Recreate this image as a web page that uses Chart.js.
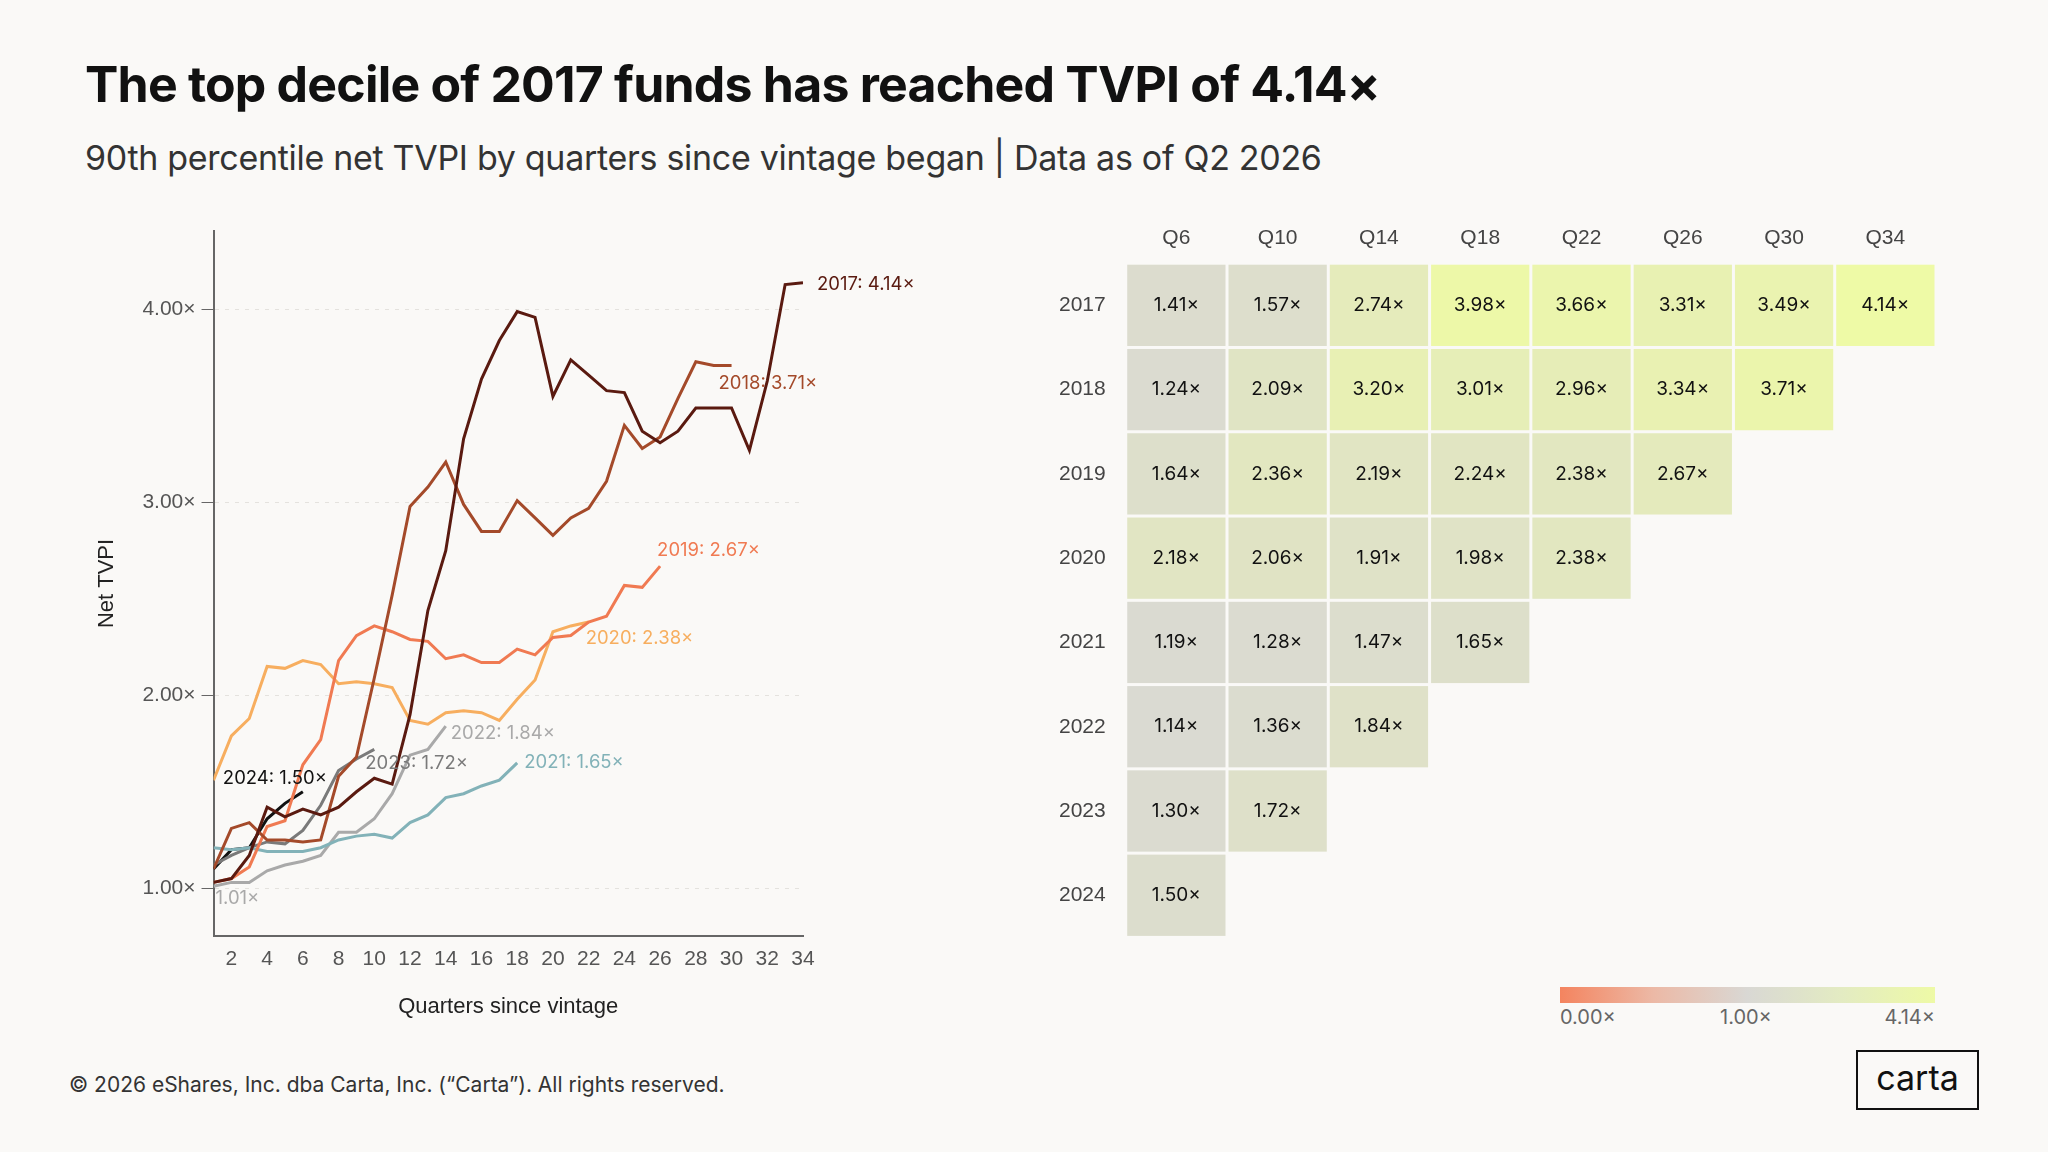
<!DOCTYPE html>
<html lang="en">
<head>
<meta charset="UTF-8">
<title>Top decile TVPI</title>
<script src="https://cdn.jsdelivr.net/npm/chart.js"></script>
<style>
  body { margin: 0; background: #faf9f7; font-family: Inter, "Noto Sans", sans-serif; color: #111; }
  #page { position: relative; width: 2048px; height: 1152px; overflow: hidden; }
  h1 { position: absolute; left: 85px; top: 54px; margin: 0; font-size: 50px; font-weight: 700; letter-spacing: -0.8px; }
  h2 { position: absolute; left: 85px; top: 137px; margin: 0; font-size: 34px; font-weight: 400; color: #333; letter-spacing: -0.3px; }
  #lineBox { position: absolute; left: 90px; top: 212px; width: 823px; height: 812px; }
  #heatBox { position: absolute; left: 1047px; top: 222px; width: 889px; height: 740px; }
  #legend { position: absolute; left: 1560px; top: 987px; width: 375px; }
  #bar { height: 16px; background: linear-gradient(to right, #f4845f 0%, #ecb9a6 25%, #d9d8d4 50%, #e3ebc2 75%, #eefaa6 100%); }
  #legend span { position: absolute; top: 18px; font-size: 20px; color: #666; }
  #foot { position: absolute; left: 69px; top: 1072px; font-size: 21px; color: #333; }
  #logo { position: absolute; left: 1856px; top: 1050px; width: 123px; height: 60px; border: 2px solid #111; box-sizing: border-box; font-size: 34px; text-align: center; line-height: 52px; }
</style>
</head>
<body>
<div id="page">
  <h1>The top decile of 2017 funds has reached TVPI of 4.14×</h1>
  <h2>90th percentile net TVPI by quarters since vintage began | Data as of Q2 2026</h2>
  <div id="lineBox"><canvas id="lineChart"></canvas></div>
  <div id="heatBox"><canvas id="heatChart"></canvas></div>
  <div id="legend"><div id="bar"></div>
    <span style="left:0">0.00×</span><span style="left:160px">1.00×</span><span style="right:0">4.14×</span></div>
  <div id="foot">© 2026 eShares, Inc. dba Carta, Inc. (“Carta”). All rights reserved.</div>
  <div id="logo">carta</div>
</div>
<script>
const vintages = ['2017', '2018', '2019', '2020', '2021', '2022', '2023', '2024'];
const colors = ['#5a1a10', '#a44a2a', '#f07a52', '#f7ae5f', '#82b2b8', '#a9a9a9', '#7a7a7a', '#111111'];

// net TVPI per quarter, starting at quarter 1
const tvpi2017 = [1.03, 1.05, 1.17, 1.42, 1.37, 1.41, 1.38, 1.42, 1.50, 1.57, 1.54, 1.90, 2.44, 2.75, 3.33, 3.64, 3.84, 3.99, 3.96, 3.55, 3.74, 3.66, 3.58, 3.57, 3.37, 3.31, 3.37, 3.49, 3.49, 3.49, 3.27, 3.63, 4.13, 4.14];
const tvpi2018 = [1.10, 1.31, 1.34, 1.25, 1.25, 1.24, 1.25, 1.58, 1.68, 2.09, 2.52, 2.98, 3.08, 3.21, 2.99, 2.85, 2.85, 3.01, 2.92, 2.83, 2.92, 2.97, 3.11, 3.40, 3.28, 3.34, 3.54, 3.73, 3.71, 3.71];
const tvpi2019 = [1.03, 1.05, 1.11, 1.32, 1.35, 1.64, 1.77, 2.18, 2.31, 2.36, 2.33, 2.29, 2.28, 2.19, 2.21, 2.17, 2.17, 2.24, 2.21, 2.30, 2.31, 2.38, 2.41, 2.57, 2.56, 2.67];
const tvpi2020 = [1.56, 1.79, 1.88, 2.15, 2.14, 2.18, 2.16, 2.06, 2.07, 2.06, 2.04, 1.87, 1.85, 1.91, 1.92, 1.91, 1.87, 1.98, 2.08, 2.33, 2.36, 2.38];
const tvpi2021 = [1.21, 1.20, 1.21, 1.19, 1.19, 1.19, 1.21, 1.25, 1.27, 1.28, 1.26, 1.34, 1.38, 1.47, 1.49, 1.53, 1.56, 1.65];
const tvpi2022 = [1.01, 1.03, 1.03, 1.09, 1.12, 1.14, 1.17, 1.29, 1.29, 1.36, 1.49, 1.69, 1.72, 1.84];
const tvpi2023 = [1.12, 1.17, 1.21, 1.24, 1.23, 1.30, 1.43, 1.61, 1.67, 1.72];
const tvpi2024 = [1.10, 1.20, 1.21, 1.36, 1.44, 1.50];
const series = [tvpi2017, tvpi2018, tvpi2019, tvpi2020, tvpi2021, tvpi2022, tvpi2023, tvpi2024];
const xTicks = [2, 4, 6, 8, 10, 12, 14, 16, 18, 20, 22, 24, 26, 28, 30, 32, 34];
const yTicks = [1, 2, 3, 4];

const heatCols = ['Q6', 'Q10', 'Q14', 'Q18', 'Q22', 'Q26', 'Q30', 'Q34'];
const heat2017 = [1.41, 1.57, 2.74, 3.98, 3.66, 3.31, 3.49, 4.14];
const heat2018 = [1.24, 2.09, 3.20, 3.01, 2.96, 3.34, 3.71];
const heat2019 = [1.64, 2.36, 2.19, 2.24, 2.38, 2.67];
const heat2020 = [2.18, 2.06, 1.91, 1.98, 2.38];
const heat2021 = [1.19, 1.28, 1.47, 1.65];
const heat2022 = [1.14, 1.36, 1.84];
const heat2023 = [1.30, 1.72];
const heat2024 = [1.50];
const heatRows = [heat2017, heat2018, heat2019, heat2020, heat2021, heat2022, heat2023, heat2024];

// label offsets from each line's last point (px)
const labelOffsets = [[14, 2], [-13, 18], [-3, -16], [-3, 16], [7, 0], [5, 7], [-9, 14], [-80, -13]];

const fmt = v => v.toFixed(2) + '×';

const lineLabels = {
  id: 'lineLabels',
  afterDatasetsDraw(chart) {
    const ctx = chart.ctx;
    ctx.save();
    ctx.font = '18.5px Inter, sans-serif';
    ctx.textBaseline = 'middle';
    chart.data.datasets.forEach((ds, i) => {
      const meta = chart.getDatasetMeta(i);
      const last = meta.data[meta.data.length - 1];
      ctx.fillStyle = ds.borderColor;
      const v = ds.data[ds.data.length - 1].y;
      ctx.fillText(vintages[i] + ': ' + fmt(v), last.x + labelOffsets[i][0], last.y + labelOffsets[i][1]);
    });
    const first = chart.getDatasetMeta(5).data[0];
    ctx.fillStyle = '#a9a9a9';
    ctx.fillText(fmt(tvpi2022[0]), first.x + 2, first.y + 12);
    ctx.restore();
  }
};

new Chart(document.getElementById('lineChart'), {
  type: 'line',
  data: {
    datasets: series.map((s, i) => ({
      label: vintages[i],
      data: s.map((v, q) => ({ x: q + 1, y: v })),
      borderColor: colors[i],
      borderWidth: 3,
      pointRadius: 0,
      tension: 0
    }))
  },
  options: {
    responsive: true,
    maintainAspectRatio: false,
    animation: false,
    layout: { padding: { right: 110, top: 10 } },
    plugins: { legend: { display: false }, tooltip: { enabled: false } },
    scales: {
      x: {
        type: 'linear', min: 1, max: 34,
        afterBuildTicks: s => { s.ticks = xTicks.map(v => ({ value: v })); },
        grid: { display: false },
        border: { color: '#666', width: 2 },
        ticks: { color: '#555', font: { size: 21 }, padding: 2 },
        title: { display: true, text: 'Quarters since vintage', color: '#222', font: { size: 22 }, padding: { top: 20 } }
      },
      y: {
        min: 0.75, max: 4.41,
        afterBuildTicks: s => { s.ticks = yTicks.map(v => ({ value: v })); },
        grid: { color: '#e4e2de', tickColor: '#666', tickLength: 12 },
        border: { color: '#666', width: 2, dash: [4, 6] },
        ticks: { color: '#555', font: { size: 21 }, callback: v => fmt(v), padding: 6 },
        title: { display: true, text: 'Net TVPI', color: '#222', font: { size: 22 }, padding: { bottom: 16 } }
      }
    }
  },
  plugins: [lineLabels]
});

function cellColor(v) {
  const lerp = (a, b, t) => a.map((c, k) => Math.round(c + (b[k] - c) * t));
  let c;
  if (v <= 1) c = lerp([244, 132, 95], [217, 216, 212], v);
  else c = lerp([217, 216, 212], [238, 250, 166], (v - 1) / 3.14);
  return 'rgb(' + c.join(',') + ')';
}

const heatCells = {
  id: 'heatCells',
  beforeDatasetsDraw(chart) {
    const ctx = chart.ctx, xs = chart.scales.x, ys = chart.scales.y;
    const w = (xs.right - xs.left) / heatCols.length;
    const h = (ys.bottom - ys.top) / vintages.length;
    ctx.save();
    ctx.textAlign = 'center';
    ctx.textBaseline = 'middle';
    ctx.font = '19px Inter, sans-serif';
    heatRows.forEach((row, r) => {
      row.forEach((v, c) => {
        const cx = xs.getPixelForValue(c), cy = ys.getPixelForValue(r);
        ctx.fillStyle = cellColor(v);
        ctx.fillRect(cx - w / 2 + 1.5, cy - h / 2 + 1.5, w - 3, h - 3);
        ctx.fillStyle = '#111';
        ctx.fillText(fmt(v), cx, cy);
      });
    });
    ctx.restore();
  }
};

new Chart(document.getElementById('heatChart'), {
  type: 'scatter',
  data: { datasets: [{ data: [] }] },
  options: {
    responsive: true,
    maintainAspectRatio: false,
    animation: false,
    plugins: { legend: { display: false }, tooltip: { enabled: false } },
    scales: {
      x: {
        type: 'category', labels: heatCols, position: 'top', offset: true,
        grid: { display: false }, border: { display: false },
        ticks: { color: '#444', font: { size: 21 }, padding: 4 }
      },
      y: {
        type: 'category', labels: vintages, offset: true,
        grid: { display: false }, border: { display: false },
        ticks: { color: '#444', font: { size: 21 }, padding: 12 }
      }
    }
  },
  plugins: [heatCells]
});
</script>
</body>
</html>
